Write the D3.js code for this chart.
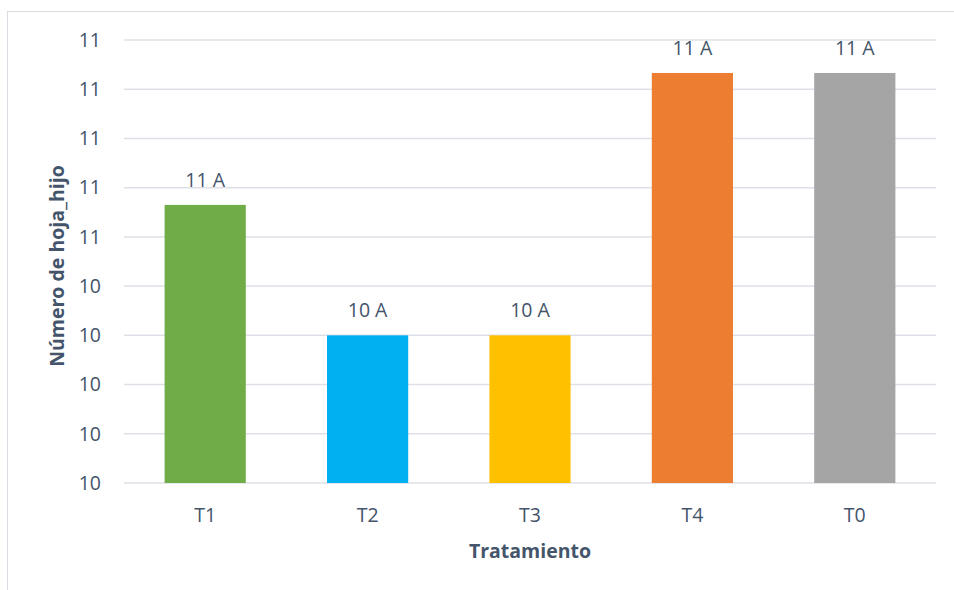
<!DOCTYPE html>
<html lang="es">
<head>
<meta charset="utf-8">
<title>Número de hoja_hijo por tratamiento</title>
<script src="https://d3js.org/d3.v7.min.js"></script>
<style>
  body { margin: 0; background: #fff; }
  text { font-family: "Open Sans", "Noto Sans", sans-serif; fill: #44546a; }
</style>
</head>
<body>
<script>
// data
var categories = ["T1", "T2", "T3", "T4", "T0"];
var values = [10.565, 10.30, 10.30, 10.833, 10.833];
var groups = ["A", "A", "A", "A", "A"];
var colors = ["#70ad47", "#00b0f0", "#ffc000", "#ed7d31", "#a5a5a5"];
var yTicks = [10.0, 10.1, 10.2, 10.3, 10.4, 10.5, 10.6, 10.7, 10.8, 10.9];

var w = 954, h = 590;
var plotLeft = 124, plotRight = 936, plotTop = 40, plotBottom = 483;
var fontSize = 19.5;

var svg = d3.select("body").append("svg").attr("width", w).attr("height", h);

// chart frame
svg.append("rect")
  .attr("x", 7.5).attr("y", 11.5)
  .attr("width", w + 10).attr("height", h + 10)
  .attr("fill", "none").attr("stroke", "#d9dde3");

var x = d3.scaleBand().domain(categories).range([plotLeft, plotRight]).paddingInner(0.5).paddingOuter(0.25);
var y = d3.scaleLinear().domain([10, 10.9]).range([plotBottom, plotTop]);

// gridlines
svg.append("g").selectAll("line")
  .data(yTicks)
  .join("line")
  .attr("x1", plotLeft).attr("x2", plotRight)
  .attr("y1", function(d) { return y(d); })
  .attr("y2", function(d) { return y(d); })
  .attr("stroke", "#dde1e7").attr("stroke-width", 1.5);

// y axis labels
var yAxis = d3.axisLeft(y).tickValues(yTicks).tickFormat(d3.format(".0f")).tickSize(0).tickPadding(0);
svg.append("g")
  .attr("transform", "translate(101,0)")
  .call(yAxis)
  .call(function(g) { g.select(".domain").remove(); })
  .selectAll("text")
  .attr("font-size", fontSize)
  .attr("fill", "#44546a")
  .style("font-family", "'Open Sans', 'Noto Sans', sans-serif");

// bars
svg.append("g").selectAll("rect")
  .data(values)
  .join("rect")
  .attr("x", function(d, i) { return x(categories[i]); })
  .attr("width", x.bandwidth())
  .attr("y", function(d) { return y(d); })
  .attr("height", function(d) { return plotBottom - y(d); })
  .attr("fill", function(d, i) { return colors[i]; });

// data labels
svg.append("g").selectAll("text")
  .data(values)
  .join("text")
  .attr("x", function(d, i) { return x(categories[i]) + x.bandwidth() / 2; })
  .attr("y", function(d) { return y(d) - 18; })
  .attr("text-anchor", "middle")
  .attr("font-size", fontSize)
  .text(function(d, i) { return d3.format(".0f")(d) + " " + groups[i]; });

// x axis labels
var xAxis = d3.axisBottom(x).tickSize(0).tickPadding(0);
svg.append("g")
  .attr("transform", "translate(0," + (plotBottom + 39) + ")")
  .call(xAxis)
  .call(function(g) { g.select(".domain").remove(); })
  .selectAll("text")
  .attr("dy", 0)
  .attr("font-size", fontSize)
  .attr("fill", "#44546a")
  .style("font-family", "'Open Sans', 'Noto Sans', sans-serif");

// axis titles
svg.append("text")
  .attr("x", (plotLeft + plotRight) / 2).attr("y", 558)
  .attr("text-anchor", "middle")
  .attr("font-size", fontSize).attr("font-weight", "bold")
  .text("Tratamiento");

svg.append("text")
  .attr("transform", "translate(64,266) rotate(-90)")
  .attr("text-anchor", "middle")
  .attr("font-size", fontSize).attr("font-weight", "bold")
  .text("Número de hoja_hijo");
</script>
</body>
</html>
